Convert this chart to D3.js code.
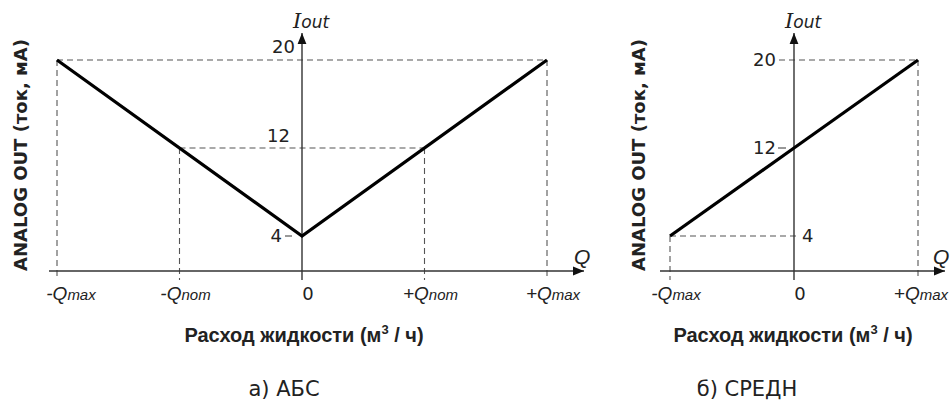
<!DOCTYPE html>
<html>
<head>
<meta charset="utf-8">
<script src="https://cdn.jsdelivr.net/npm/d3@7"></script>
<style>
  body { margin: 0; background: #fff; }
  svg { display: block; }
  .axis { stroke: #333; stroke-width: 1.4; fill: none; }
  .guide { stroke: #555; stroke-width: 1.1; stroke-dasharray: 6,4; fill: none; }
  .curve { stroke: #000; stroke-width: 3.2; fill: none; stroke-linejoin: miter; }
  .num { font-family: "DejaVu Sans", sans-serif; font-size: 18px; fill: #222; }
  .qlab { font-family: "Liberation Sans", Arial, sans-serif; font-style: italic; fill: #222; }
  .title { font-family: "Liberation Sans", Arial, sans-serif; font-weight: bold; font-size: 20px; fill: #222; }
  .ytitle { font-family: "DejaVu Sans", sans-serif; font-weight: bold; font-size: 18px; fill: #222; }
  .caption { font-family: "DejaVu Sans", sans-serif; font-size: 21px; fill: #222; }
</style>
</head>
<body>
<svg id="chart" width="950" height="402"></svg>
<script>
"use strict";

// Q in units of Qnom (left) / Qmax (right), current in mA
let absQ = [-2, 0, 2];
let absI = [20, 4, 20];
let absTicks = [
  {q: -2, pre: '-Q', sub: 'max'},
  {q: -1, pre: '-Q', sub: 'nom'},
  {q: 0, pre: '0', sub: ''},
  {q: 1, pre: '+Q', sub: 'nom'},
  {q: 2, pre: '+Q', sub: 'max'},
];

let avgQ = [-1, 0, 1];
let avgI = [4, 12, 20];
let avgTicks = [
  {q: -1, pre: '-Q', sub: 'max'},
  {q: 0, pre: '0', sub: ''},
  {q: 1, pre: '+Q', sub: 'max'},
];

let xTitle = 'Расход жидкости (м';
let yTitle = 'ANALOG OUT (ток, мА)';

let svg = d3.select('#chart');

let y = d3.scaleLinear().domain([4, 20]).range([236, 60]);
let axisY = 271;
let axisTop = 33;

svg.append('defs').append('marker')
  .attr('id', 'arrow')
  .attr('viewBox', '0 0 10 10')
  .attr('refX', 10).attr('refY', 5)
  .attr('markerWidth', 11).attr('markerHeight', 11)
  .attr('markerUnits', 'userSpaceOnUse')
  .attr('orient', 'auto')
  .append('path')
    .attr('d', 'M0,1 L10,5 L0,9 Z')
    .attr('fill', '#111');

function dashed(g, pts) {
  g.append('path').attr('class', 'guide').attr('d', d3.line()(pts));
}

function qLabel(g, x, t, anchor) {
  let txt = g.append('text')
    .attr('class', 'qlab')
    .attr('x', x)
    .attr('y', 300)
    .attr('text-anchor', anchor || 'middle');
  if (t.sub === '') {
    txt.attr('class', 'num').style('font-style', 'normal').text(t.pre);
    return;
  }
  txt.append('tspan').style('font-size', '19px').text(t.pre);
  txt.append('tspan').style('font-size', '15px').text(t.sub);
}

function frame(g, x, xLeft, xRight, titleX) {
  // x axis with arrow
  g.append('line').attr('class', 'axis')
    .attr('x1', xLeft).attr('x2', xRight)
    .attr('y1', axisY).attr('y2', axisY)
    .attr('marker-end', 'url(#arrow)');
  // y axis with arrow
  g.append('line').attr('class', 'axis')
    .attr('x1', x(0)).attr('x2', x(0))
    .attr('y1', axisY + 9).attr('y2', axisTop)
    .attr('marker-end', 'url(#arrow)');

  let lab = g.append('text').attr('x', x(0) - 9).attr('y', 28);
  lab.append('tspan')
    .style('font-family', '"DejaVu Serif", serif')
    .style('font-style', 'italic')
    .style('font-size', '21px')
    .attr('fill', '#222')
    .text('I');
  lab.append('tspan')
    .style('font-family', '"DejaVu Sans", sans-serif')
    .style('font-style', 'italic')
    .style('font-size', '17px')
    .attr('fill', '#222')
    .text('out');

  g.append('text').attr('class', 'qlab')
    .attr('x', Math.min(xRight - 10, 933)).attr('y', 264)
    .style('font-size', '21px')
    .text('Q');

  let t = g.append('text').attr('class', 'title')
    .attr('x', titleX).attr('y', 342)
    .attr('text-anchor', 'middle');
  t.append('tspan').text(xTitle);
  t.append('tspan').attr('dy', -8).style('font-size', '13px').text('3');
  t.append('tspan').attr('dy', 8).text(' / ч)');
}

function yTitleAt(g, cx) {
  g.append('text').attr('class', 'ytitle')
    .attr('transform', `translate(${cx},155) rotate(-90)`)
    .attr('text-anchor', 'middle')
    .attr('dy', '0.35em')
    .text(yTitle);
}

// ---- а) АБС
let xa = d3.scaleLinear().domain([-2, 2]).range([57, 547]);
let ga = svg.append('g');
yTitleAt(ga, 21);

dashed(ga, [[xa(-2), y(20)], [xa(2), y(20)]]);
dashed(ga, [[xa(-1), y(12)], [xa(1), y(12)]]);
[-2, -1, 1, 2].forEach(q => {
  let v = absI[0] - (absI[0] - absI[1]) * (1 - Math.abs(q) / 2);
  dashed(ga, [[xa(q), y(v)], [xa(q), axisY + 9]]);
});
frame(ga, xa, 49, 584, 304);

ga.append('line').attr('class', 'axis')
  .attr('x1', xa(0) - 17).attr('x2', xa(0) - 10)
  .attr('y1', y(4)).attr('y2', y(4))
  .style('stroke-width', 1);
ga.append('text').attr('class', 'num').attr('x', xa(0) - 7).attr('y', 53)
  .attr('text-anchor', 'end').text('20');
ga.append('text').attr('class', 'num').attr('x', xa(0) - 12).attr('y', 142)
  .attr('text-anchor', 'end').text('12');
ga.append('text').attr('class', 'num').attr('x', xa(0) - 20).attr('y', y(4))
  .attr('dy', '0.36em').attr('text-anchor', 'end').text('4');

ga.append('path').attr('class', 'curve')
  .attr('d', d3.line().x((d, i) => xa(absQ[i])).y(d => y(d))(absI));

absTicks.forEach(t => qLabel(ga, xa(t.q) + (t.q === -2 ? 14 : 6), t));

ga.append('text').attr('class', 'caption')
  .attr('x', 284).attr('y', 396).attr('text-anchor', 'middle')
  .text('а) АБС');

// ---- б) СРЕДН
let xb = d3.scaleLinear().domain([-1, 1]).range([670, 918]);
let gb = svg.append('g');
yTitleAt(gb, 639);

dashed(gb, [[xb(0) - 15, y(20)], [xb(1), y(20)]]);
dashed(gb, [[xb(1), y(20)], [xb(1), axisY + 9]]);
dashed(gb, [[xb(-1), y(4)], [xb(0) + 6, y(4)]]);
dashed(gb, [[xb(-1), y(4)], [xb(-1), axisY + 9]]);
frame(gb, xb, 660, 945, 793);

gb.append('line').attr('class', 'axis')
  .attr('x1', xb(0) - 16).attr('x2', xb(0) - 8)
  .attr('y1', y(12)).attr('y2', y(12))
  .style('stroke-width', 1);
gb.append('text').attr('class', 'num').attr('x', xb(0) - 18).attr('y', y(20))
  .attr('dy', '0.36em').attr('text-anchor', 'end').text('20');
gb.append('text').attr('class', 'num').attr('x', xb(0) - 18).attr('y', y(12))
  .attr('dy', '0.36em').attr('text-anchor', 'end').text('12');
gb.append('text').attr('class', 'num').attr('x', xb(0) + 8).attr('y', y(4))
  .attr('dy', '0.36em').text('4');

gb.append('path').attr('class', 'curve')
  .attr('d', d3.line().x((d, i) => xb(avgQ[i])).y(d => y(d))(avgI));

avgTicks.forEach(t => {
  if (t.q === 1) qLabel(gb, 948, t, 'end');
  else qLabel(gb, xb(t.q) + 6, t);
});

gb.append('text').attr('class', 'caption')
  .attr('x', 747).attr('y', 396).attr('text-anchor', 'middle')
  .text('б) СРЕДН');
</script>
</body>
</html>
